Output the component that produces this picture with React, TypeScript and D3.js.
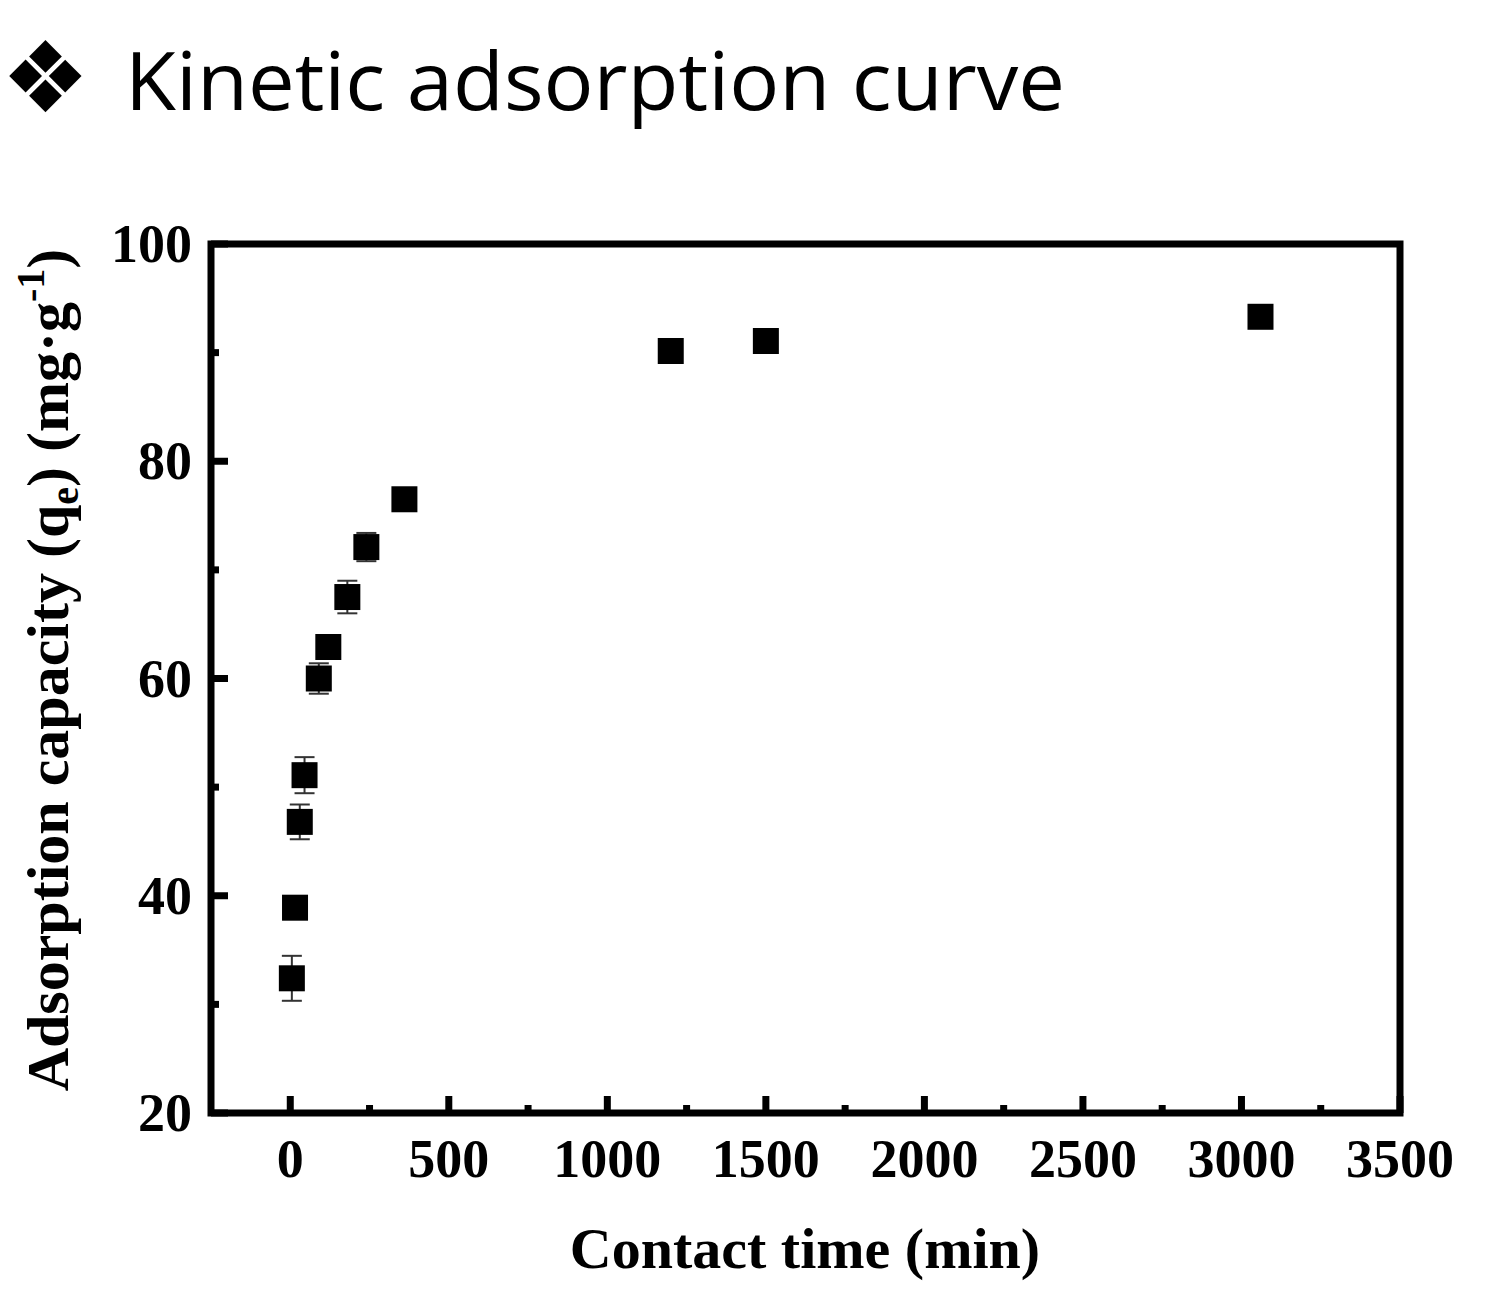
import React, { useRef, useEffect } from 'react';
import * as d3 from 'd3';

// contact time (min), adsorption capacity qe (mg/g) and its error
const times = [5, 15, 30, 45, 90, 120, 180, 240, 360, 1200, 1500, 3060];
const qe = [32.4, 38.9, 46.8, 51.1, 60.0, 62.9, 67.5, 72.1, 76.5, 90.15, 91.07, 93.3];
const qeErr = [2.07, 0.6, 1.6, 1.66, 1.4, 0.8, 1.5, 1.3, 0.6, 0.3, 0.3, 0.3];

const xTicks = [0, 500, 1000, 1500, 2000, 2500, 3000, 3500];
const xMinorTicks = [250, 750, 1250, 1750, 2250, 2750, 3250];
const yTicks = [20, 40, 60, 80, 100];
const yMinorTicks = [30, 50, 70, 90];

const W = 1494;
const H = 1303;

const App: React.FC = () => {
  const ref = useRef<SVGSVGElement>(null);

  useEffect(() => {
    const svg = d3.select(ref.current);
    svg.selectAll('*').remove();

    const x = d3.scaleLinear().domain([-250, 3500]).range([211, 1400]);
    const y = d3.scaleLinear().domain([20, 100]).range([1113, 244]);
    const serif = '"Liberation Serif", "Times New Roman", serif';

    // title
    svg
      .append('text')
      .attr('x', 1)
      .attr('y', 112)
      .attr('font-family', '"DejaVu Sans", sans-serif')
      .attr('font-size', 99)
      .text('\u2756');
    svg
      .append('text')
      .attr('x', 125)
      .attr('y', 110)
      .attr('font-family', '"Open Sans", sans-serif')
      .attr('font-size', 81)
      .attr('textLength', 940)
      .attr('lengthAdjust', 'spacingAndGlyphs')
      .text('Kinetic adsorption curve');

    const data = times.map((t, i) => ({ t, q: qe[i], e: qeErr[i] }));

    // error bars
    const eb = svg.append('g').attr('stroke', '#333').attr('stroke-width', 2);
    data.forEach((d) => {
      const cx = x(d.t);
      eb.append('line').attr('x1', cx).attr('x2', cx).attr('y1', y(d.q - d.e)).attr('y2', y(d.q + d.e));
      [d.q - d.e, d.q + d.e].forEach((v) => {
        eb.append('line').attr('x1', cx - 10).attr('x2', cx + 10).attr('y1', y(v)).attr('y2', y(v));
      });
    });

    // markers
    const s = 26;
    svg
      .append('g')
      .selectAll('rect')
      .data(data)
      .enter()
      .append('rect')
      .attr('x', (d) => x(d.t) - s / 2)
      .attr('y', (d) => y(d.q) - s / 2)
      .attr('width', s)
      .attr('height', s)
      .attr('fill', '#000');

    // ticks (inward)
    const tk = svg.append('g').attr('stroke', '#000').attr('stroke-width', 7);
    xTicks.forEach((t) => {
      tk.append('line').attr('x1', x(t)).attr('x2', x(t)).attr('y1', 1113).attr('y2', 1096);
    });
    xMinorTicks.forEach((t) => {
      tk.append('line').attr('x1', x(t)).attr('x2', x(t)).attr('y1', 1113).attr('y2', 1105);
    });
    yTicks.forEach((t) => {
      tk.append('line').attr('x1', 211).attr('x2', 228).attr('y1', y(t)).attr('y2', y(t));
    });
    yMinorTicks.forEach((t) => {
      tk.append('line').attr('x1', 211).attr('x2', 219).attr('y1', y(t)).attr('y2', y(t));
    });

    // frame
    svg
      .append('rect')
      .attr('x', 211)
      .attr('y', 244)
      .attr('width', 1400 - 211)
      .attr('height', 1113 - 244)
      .attr('fill', 'none')
      .attr('stroke', '#000')
      .attr('stroke-width', 7);

    // tick labels
    svg
      .append('g')
      .selectAll('text')
      .data(xTicks)
      .enter()
      .append('text')
      .attr('x', (d) => x(d))
      .attr('y', 1177)
      .attr('text-anchor', 'middle')
      .attr('font-family', serif)
      .attr('font-weight', 'bold')
      .attr('font-size', 54)
      .text((d) => String(d));
    svg
      .append('g')
      .selectAll('text')
      .data(yTicks)
      .enter()
      .append('text')
      .attr('x', 192)
      .attr('y', (d) => y(d) + 18)
      .attr('text-anchor', 'end')
      .attr('font-family', serif)
      .attr('font-weight', 'bold')
      .attr('font-size', 54)
      .text((d) => String(d));

    // axis titles
    svg
      .append('text')
      .attr('x', 805)
      .attr('y', 1268)
      .attr('text-anchor', 'middle')
      .attr('font-family', serif)
      .attr('font-weight', 'bold')
      .attr('font-size', 58)
      .text('Contact time (min)');

    const yt = svg
      .append('text')
      .attr('transform', 'translate(68,670) rotate(-90)')
      .attr('text-anchor', 'middle')
      .attr('font-family', serif)
      .attr('font-weight', 'bold')
      .attr('font-size', 60);
    yt.append('tspan').text('Adsorption capacity (q');
    yt.append('tspan').attr('font-size', 40).attr('dy', 10).text('e');
    yt.append('tspan').attr('dy', -10).text(') (mg\u00B7g');
    yt.append('tspan').attr('font-size', 40).attr('dy', -24).text('-1');
    yt.append('tspan').attr('dy', 24).text(')');
  }, []);

  return (
    <svg
      ref={ref}
      width={W}
      height={H}
      style={{ position: 'absolute', left: 0, top: 0, background: '#fff' }}
    />
  );
};

export default App;
